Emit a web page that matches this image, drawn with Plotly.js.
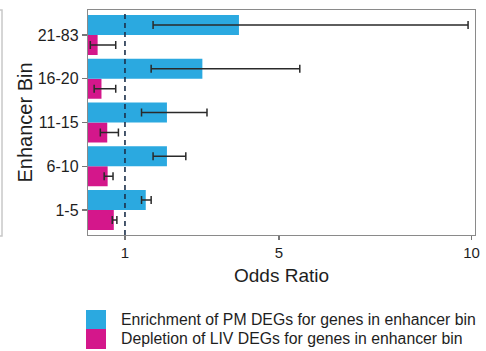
<!DOCTYPE html>
<html><head><meta charset="utf-8">
<script src="https://cdn.plot.ly/plotly-3.0.1.min.js"></script>
<style>html,body{margin:0;padding:0;background:#fff;}#chart{width:486px;height:351px;}</style>
</head><body><div id="chart"></div>
<script>
var categories = ['1-5', '6-10', '11-15', '16-20', '21-83'];
var pmOdds = [1.54, 2.09, 2.09, 3.01, 3.96];
var pmLower = [1.43, 1.73, 1.43, 1.68, 1.73];
var pmUpper = [1.68, 2.58, 3.13, 5.54, 9.91];
var livOdds = [0.71, 0.55, 0.54, 0.39, 0.29];
var livLower = [0.67, 0.46, 0.36, 0.20, 0.10];
var livUpper = [0.79, 0.69, 0.83, 0.76, 0.76];
var xTicks = [1, 5, 10];
var yTitle = 'Enhancer Bin';
var legendLabels = ['Enrichment of PM DEGs for genes in enhancer bin', 'Depletion of LIV DEGs for genes in enhancer bin'];
var blue = '#2BA9E0', magenta = '#D4178B';

function diff(a, b) { return a.map(function (v, i) { return v - b[i]; }); }

var errStyle = {type: 'data', symmetric: false, color: '#2a2a2a', thickness: 1.5, width: 4};

var traces = [
  {type: 'bar', orientation: 'h', y: categories, x: livOdds, name: legendLabels[1],
   marker: {color: magenta}, showlegend: false,
   error_x: Object.assign({array: diff(livUpper, livOdds), arrayminus: diff(livOdds, livLower)}, errStyle)},
  {type: 'bar', orientation: 'h', y: categories, x: pmOdds, name: legendLabels[0],
   marker: {color: blue}, showlegend: false,
   error_x: Object.assign({array: diff(pmUpper, pmOdds), arrayminus: diff(pmOdds, pmLower)}, errStyle)}
];

var font = 'Liberation Sans, Arial, Helvetica, sans-serif';
var layout = {
  width: 486, height: 351,
  margin: {l: 88, r: 11, t: 10, b: 116},
  paper_bgcolor: '#fff', plot_bgcolor: '#fff',
  barmode: 'group', bargap: 0.086, bargroupgap: 0,
  font: {family: font, color: '#222'},
  xaxis: {range: [0.04, 10.09], tickvals: xTicks, ticktext: xTicks.map(String),
          ticks: 'outside', ticklen: 4, tickcolor: '#777', tickwidth: 1.2,
          showline: true, linecolor: '#8a8a8a', linewidth: 1.2, mirror: true,
          showgrid: false, zeroline: false, tickfont: {size: 15, color: '#1e1e1e'},
          title: {text: 'Odds Ratio', font: {size: 19, color: '#1e1e1e'}, standoff: 8}},
  yaxis: {type: 'category', categoryorder: 'array', categoryarray: categories,
          range: [-0.571, 4.571], ticks: 'outside', ticklen: 5, tickcolor: '#777', tickwidth: 1.2,
          showline: true, linecolor: '#8a8a8a', linewidth: 1.2, mirror: true,
          showgrid: false, zeroline: false, tickfont: {size: 16, color: '#1e1e1e'}},
  shapes: [
    {type: 'line', xref: 'x', yref: 'paper', x0: 1, x1: 1, y0: 0, y1: 1,
     line: {color: '#1b2f4a', width: 1.6, dash: '5px,4px'}},
    {type: 'rect', xref: 'paper', yref: 'paper', x0: -0.3, x1: -0.2222, y0: -0.0044, y1: 1,
     line: {color: '#c8c8c8', width: 1.5}},
    {type: 'rect', xref: 'paper', yref: 'paper', x0: -0.0052, x1: 0.0465, y0: -0.4178, y1: -0.3333,
     line: {width: 0}, fillcolor: blue},
    {type: 'rect', xref: 'paper', yref: 'paper', x0: -0.0052, x1: 0.0465, y0: -0.5067, y1: -0.4178,
     line: {width: 0}, fillcolor: magenta}
  ],
  annotations: [
    {xref: 'paper', yref: 'paper', x: -0.1628, y: 0.5, xanchor: 'center', yanchor: 'middle',
     textangle: -90, showarrow: false, text: yTitle, font: {size: 20, color: '#1e1e1e'}},
    {xref: 'paper', yref: 'paper', x: 0.0801, y: -0.3756, xanchor: 'left', yanchor: 'middle',
     showarrow: false, text: legendLabels[0], font: {size: 15.8, color: '#1e1e1e'}},
    {xref: 'paper', yref: 'paper', x: 0.0801, y: -0.4622, xanchor: 'left', yanchor: 'middle',
     showarrow: false, text: legendLabels[1], font: {size: 15.8, color: '#1e1e1e'}}
  ]
};

Plotly.newPlot('chart', traces, layout, {displayModeBar: false, staticPlot: true});
</script></body></html>
